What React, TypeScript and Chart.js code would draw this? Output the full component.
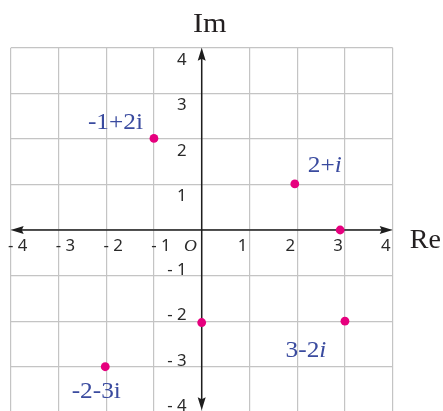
import React, { useEffect, useRef } from 'react';
import { Chart, registerables } from 'chart.js';

Chart.register(...registerables);

// ---- data ----
const reValues = [-1, 1.95, 2.9, 0, 3, -2.02];
const imValues = [2.01, 1.01, 0, -2.03, -2, -3];
const pointLabels = ['-1+2', '2+', '', '', '3-2', '-2-3'];
const pointLabelItalicI = [false, true, false, false, true, false];
const tickValues = [-4, -3, -2, -1, 0, 1, 2, 3, 4];
const xTickLabels = ['- 4', '- 3', '- 2', '- 1', '', '1', '2', '3', '4'];
const yTickLabels = ['- 4', '- 3', '- 2', '- 1', '', '1', '2', '3', '4'];
const xAxisTitle = 'Re';
const yAxisTitle = 'Im';
const originLabel = 'O';

// ---- label placement (styling) ----
const labelPlacement = [
  { dx: -11, dy: -9, align: 'right' },
  { dx: 13, dy: -11.6, align: 'left' },
  { dx: 0, dy: 0, align: 'left' },
  { dx: 0, dy: 0, align: 'left' },
  { dx: -18.6, dy: 35.4, align: 'right' },
  { dx: -9, dy: 31, align: 'center' },
];

const SERIF = "'Liberation Serif', 'DejaVu Serif', serif";
const SANS = "'Noto Sans', 'DejaVu Sans', sans-serif";
const LABEL_BLUE = '#3a4b9f';
const AXIS_COLOR = '#1e1e1e';
const TICK_COLOR = '#2a2a2a';

type Seg = { t: string; font: string };

function drawSegs(ctx: CanvasRenderingContext2D, segs: Seg[], x: number, y: number, align: string, sx: number, color: string) {
  ctx.save();
  let w = 0;
  for (const s of segs) {
    ctx.font = s.font;
    w += ctx.measureText(s.t).width;
  }
  w *= sx;
  const start = align === 'left' ? x : align === 'right' ? x - w : x - w / 2;
  ctx.translate(start, y);
  ctx.scale(sx, 1);
  ctx.fillStyle = color;
  ctx.textAlign = 'left';
  ctx.textBaseline = 'alphabetic';
  let cx = 0;
  for (const s of segs) {
    ctx.font = s.font;
    ctx.fillText(s.t, cx, 0);
    cx += ctx.measureText(s.t).width;
  }
  ctx.restore();
}

function arrow(ctx: CanvasRenderingContext2D, tx: number, ty: number, dx: number, dy: number) {
  const L = 13;
  const W = 4;
  const nx = -dy;
  const ny = dx;
  ctx.beginPath();
  ctx.moveTo(tx, ty);
  ctx.lineTo(tx - L * dx + W * nx, ty - L * dy + W * ny);
  ctx.lineTo(tx - L * dx * 0.85, ty - L * dy * 0.85);
  ctx.lineTo(tx - L * dx - W * nx, ty - L * dy - W * ny);
  ctx.closePath();
  ctx.fill();
}

const planePlugin = {
  id: 'complexPlane',
  beforeDatasetsDraw(chart: any) {
    const { ctx, scales } = chart;
    const x = scales.x;
    const y = scales.y;
    const x0 = x.getPixelForValue(0);
    const y0 = y.getPixelForValue(0);
    const xl = x.getPixelForValue(-4);
    const xr = x.getPixelForValue(4);
    const yt = y.getPixelForValue(4);
    const yb = y.getPixelForValue(-4) - 2;
    ctx.save();
    ctx.strokeStyle = AXIS_COLOR;
    ctx.fillStyle = AXIS_COLOR;
    ctx.lineWidth = 1.5;
    ctx.beginPath();
    ctx.moveTo(xl + 8, y0);
    ctx.lineTo(xr - 8, y0);
    ctx.stroke();
    ctx.beginPath();
    ctx.moveTo(x0, yt + 8);
    ctx.lineTo(x0, yb - 8);
    ctx.stroke();
    arrow(ctx, xr, y0, 1, 0);
    arrow(ctx, xl, y0, -1, 0);
    arrow(ctx, x0, yt, 0, -1);
    arrow(ctx, x0, yb, 0, 1);
    ctx.restore();

    // tick labels
    const tickFont = `16px ${SANS}`;
    tickValues.forEach((v, i) => {
      const lx = xTickLabels[i];
      if (lx) {
        const px = x.getPixelForValue(v) + (v < 0 ? 7 : -7);
        drawSegs(ctx, [{ t: lx, font: tickFont }], px, y0 + 21, 'center', 1.05, TICK_COLOR);
      }
      const ly = yTickLabels[i];
      if (ly) {
        const py = y.getPixelForValue(v) + (v > 0 ? 17 : -1);
        drawSegs(ctx, [{ t: ly, font: tickFont }], x0 - 15, py, 'right', 1.05, TICK_COLOR);
      }
    });
    drawSegs(ctx, [{ t: originLabel, font: `italic 17px ${SERIF}` }], x0 - 4.7, y0 + 20.7, 'right', 1.05, TICK_COLOR);
    drawSegs(ctx, [{ t: yAxisTitle, font: `28px ${SERIF}` }], x0 + 8, yt - 16, 'center', 1.08, '#231f20');
    drawSegs(ctx, [{ t: xAxisTitle, font: `28px ${SERIF}` }], xr + 17, y0 + 18.3, 'left', 1.0, '#231f20');
  },
  afterDatasetsDraw(chart: any) {
    const { ctx, scales } = chart;
    const x = scales.x;
    const y = scales.y;
    const labelFont = `23px ${SERIF}`;
    const italicFont = `italic 23px ${SERIF}`;
    pointLabels.forEach((lab, i) => {
      if (!lab) return;
      const p = labelPlacement[i];
      const px = x.getPixelForValue(reValues[i]) + p.dx;
      const py = y.getPixelForValue(imValues[i]) + p.dy;
      const segs: Seg[] = [
        { t: lab, font: labelFont },
        { t: 'i', font: pointLabelItalicI[i] ? italicFont : labelFont },
      ];
      drawSegs(ctx, segs, px, py, p.align, 1.1, LABEL_BLUE);
    });
  },
};

export default function App() {
  const canvasRef = useRef<HTMLCanvasElement | null>(null);

  useEffect(() => {
    document.body.style.margin = '0';
    const canvas = canvasRef.current;
    if (!canvas) return;
    const chart = new Chart(canvas, {
      type: 'scatter',
      data: {
        datasets: [
          {
            data: reValues.map((r, i) => ({ x: r, y: imValues[i] })),
            pointRadius: 4.4,
            pointHoverRadius: 4.4,
            backgroundColor: '#e6007e',
            borderWidth: 0,
          },
        ],
      },
      options: {
        responsive: false,
        animation: false,
        events: [],
        layout: { autoPadding: false, padding: { left: 10.7, right: 50.3, top: 47.7, bottom: 0.7 } },
        plugins: { legend: { display: false }, tooltip: { enabled: false } },
        scales: {
          x: {
            type: 'linear',
            min: -4,
            max: 4,
            ticks: { display: false, stepSize: 1 },
            grid: { color: '#c4c4c4', lineWidth: 1.2, drawTicks: false },
            border: { display: false },
          },
          y: {
            type: 'linear',
            min: -4,
            max: 4,
            ticks: { display: false, stepSize: 1 },
            grid: { color: '#c4c4c4', lineWidth: 1.2, drawTicks: false },
            border: { display: false },
          },
        },
      } as any,
      plugins: [planePlugin],
    });
    return () => chart.destroy();
  }, []);

  return (
    <div style={{ width: 443, height: 411, overflow: 'hidden', background: '#ffffff' }}>
      <canvas ref={canvasRef} width={443} height={413} style={{ display: 'block' }} />
    </div>
  );
}
